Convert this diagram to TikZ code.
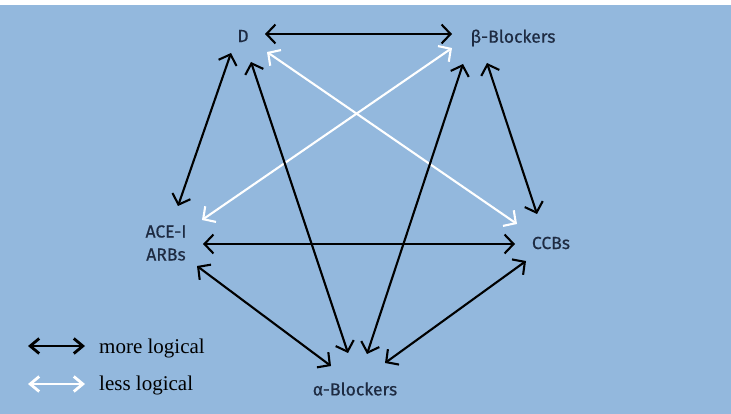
\documentclass[tikz,border=0pt]{standalone}
\usepackage{fontspec}
\setmainfont{Liberation Serif}
\newfontfamily\labelfont[FakeBold=0.5]{Fira Sans}
\usetikzlibrary{arrows.meta}
\definecolor{bgblue}{HTML}{93B8DD}
\definecolor{labelnavy}{HTML}{1E2B42}
\begin{document}
\begin{tikzpicture}[x=1pt,y=-1pt,
  lbl/.style={font=\labelfont\fontsize{17.5}{20}\selectfont, text=labelnavy, inner sep=0pt, anchor=center},
  leg/.style={font=\fontsize{21}{23}\selectfont, text=black, inner sep=0pt, anchor=base west},
  more/.style={draw=black, line width=2.1pt, {Straight Barb[length=9pt,width=19pt]}-{Straight Barb[length=9pt,width=19pt]}},
  less/.style={draw=white, line width=2.1pt, {Straight Barb[length=9pt,width=19pt]}-{Straight Barb[length=9pt,width=19pt]}},
  legarrow/.style={line width=2.8pt, {Straight Barb[length=9pt,width=15pt]}-{Straight Barb[length=9pt,width=15pt]}}]
\useasboundingbox (0,0) rectangle (731,414);
\fill[white] (0,0) rectangle (731,414);
\fill[bgblue] (0,5) rectangle (731,414);
% labels
\node[lbl] (D) at (243,36) {D};
\node[lbl] (B) at (513,38) {β-Blockers};
\node[lbl, align=center] (A) at (166,243) {ACE-I\\[3pt]ARBs};
\node[lbl] (C) at (551,243) {CCBs};
\node[lbl] (alpha) at (355,389) {α-Blockers};
% endpoints
\coordinate (DB1) at (265,34); \coordinate (DB2) at (452,34);
\coordinate (DA1) at (231,53); \coordinate (DA2) at (178,206);
\coordinate (Dal1) at (251,62); \coordinate (Dal2) at (348,353);
\coordinate (Bal1) at (463,64); \coordinate (Bal2) at (367,354);
\coordinate (BC1) at (487,63); \coordinate (BC2) at (537,214);
\coordinate (AC1) at (203,244); \coordinate (AC2) at (515,244);
\coordinate (Aal1) at (197,266); \coordinate (Aal2) at (331,366);
\coordinate (Cal1) at (526,261); \coordinate (Cal2) at (385,363);
\coordinate (DC1) at (267,52); \coordinate (DC2) at (517,224);
\coordinate (BA1) at (452,48); \coordinate (BA2) at (202,220);
% white connectors
\draw[less] (DC1) -- (DC2);
\draw[less] (BA1) -- (BA2);
% black connectors
\draw[more] (DB1) -- (DB2);
\draw[more] (DA1) -- (DA2);
\draw[more] (Dal1) -- (Dal2);
\draw[more] (Bal1) -- (Bal2);
\draw[more] (BC1) -- (BC2);
\draw[more] (AC1) -- (AC2);
\draw[more] (Aal1) -- (Aal2);
\draw[more] (Cal1) -- (Cal2);
% legend
\coordinate (LM1) at (28,346); \coordinate (LM2) at (85,346);
\coordinate (LL1) at (28,384); \coordinate (LL2) at (85,384);
\draw[legarrow, draw=black] (LM1) -- (LM2);
\draw[legarrow, draw=white] (LL1) -- (LL2);
\node[leg] (lm) at (99,353) {more logical};
\node[leg] (ll) at (99,390) {less logical};
\end{tikzpicture}
\end{document}
